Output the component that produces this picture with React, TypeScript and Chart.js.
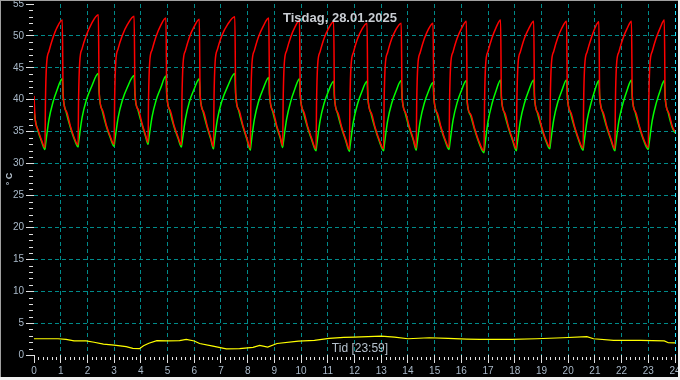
import React, { useEffect, useRef } from 'react';
import { Chart, registerables } from 'chart.js';

Chart.register(...registerables);

const TITLE = 'Tisdag, 28.01.2025';
const X_TITLE = 'Tid [23:59]';
const Y_TITLE = '° C';

// time axis (hours) shared by supply (red) and return (green) temperatures
const hours = [
  0, 0.04, 0.15, 0.28,
  0.41, 0.43, 0.47, 0.56, 0.71, 0.86, 1.06, 1.09, 1.21, 1.36, 1.51,
  1.65, 1.67, 1.71, 1.80, 1.95, 2.15, 2.41, 2.44, 2.56, 2.71, 2.86,
  3.00, 3.02, 3.06, 3.15, 3.30, 3.50, 3.75, 3.78, 3.90, 4.05, 4.18,
  4.27, 4.29, 4.33, 4.42, 4.57, 4.74, 4.94, 4.97, 5.09, 5.24, 5.39,
  5.52, 5.54, 5.58, 5.67, 5.82, 5.99, 6.19, 6.22, 6.34, 6.49, 6.62,
  6.72, 6.74, 6.78, 6.87, 7.02, 7.25, 7.52, 7.55, 7.67, 7.82, 7.97,
  8.10, 8.12, 8.16, 8.25, 8.40, 8.58, 8.79, 8.82, 8.94, 9.09, 9.22,
  9.31, 9.33, 9.37, 9.46, 9.61, 9.76, 9.94, 9.97, 10.09, 10.24, 10.39,
  10.56, 10.58, 10.62, 10.71, 10.86, 11.02, 11.22, 11.25, 11.37, 11.52, 11.67,
  11.81, 11.83, 11.87, 11.96, 12.11, 12.27, 12.47, 12.50, 12.62, 12.77, 12.92,
  13.09, 13.11, 13.15, 13.24, 13.39, 13.55, 13.75, 13.78, 13.90, 14.05, 14.20,
  14.31, 14.33, 14.37, 14.46, 14.61, 14.76, 14.94, 14.97, 15.09, 15.24, 15.39,
  15.54, 15.56, 15.60, 15.69, 15.84, 16.00, 16.19, 16.22, 16.34, 16.49, 16.64,
  16.85, 16.87, 16.91, 17.00, 17.15, 17.30, 17.47, 17.50, 17.62, 17.77, 17.92,
  18.06, 18.08, 18.12, 18.21, 18.36, 18.52, 18.71, 18.74, 18.86, 19.01, 19.16,
  19.31, 19.33, 19.37, 19.46, 19.61, 19.76, 19.94, 19.97, 20.09, 20.24, 20.39,
  20.56, 20.58, 20.62, 20.71, 20.86, 21.00, 21.15, 21.18, 21.30, 21.45, 21.60,
  21.75, 21.77, 21.81, 21.90, 22.05, 22.20, 22.37, 22.40, 22.52, 22.67, 22.82,
  23.00, 23.02, 23.06, 23.15, 23.30, 23.45, 23.60, 23.63, 23.75, 23.90, 24.00,
];

const supplyTemp = [
  40.6, 37.2, 35.3, 33.7,
  32.5, 40.0, 45.5, 47.6, 49.7, 51.3, 52.5, 40.8, 38.2, 35.9, 34.0,
  32.9, 40.2, 45.8, 48.0, 50.0, 51.9, 53.3, 41.2, 38.4, 36.0, 34.2,
  33.0, 40.3, 45.8, 48.0, 50.0, 51.8, 53.1, 41.0, 38.5, 36.2, 34.4,
  33.3, 40.4, 45.8, 47.8, 49.9, 51.6, 52.8, 41.0, 38.4, 36.0, 34.2,
  32.9, 40.1, 45.6, 47.7, 49.8, 51.4, 52.6, 40.8, 38.2, 35.8, 34.0,
  32.6, 40.2, 45.8, 47.9, 49.9, 51.8, 53.0, 41.1, 38.4, 36.0, 34.0,
  32.4, 40.0, 45.6, 47.7, 49.8, 51.5, 52.8, 40.9, 38.3, 35.9, 34.2,
  32.8, 40.1, 45.6, 47.7, 49.8, 51.3, 52.4, 40.8, 38.2, 35.9, 34.0,
  32.3, 39.8, 45.4, 47.5, 49.6, 51.1, 52.2, 40.5, 38.0, 35.7, 33.8,
  32.2, 39.8, 45.3, 47.4, 49.5, 51.0, 52.0, 40.5, 38.0, 35.7, 33.8,
  32.3, 39.8, 45.3, 47.4, 49.5, 51.0, 52.0, 40.6, 38.1, 35.8, 33.9,
  32.4, 39.8, 45.3, 47.4, 49.5, 51.0, 52.0, 40.5, 38.0, 35.7, 33.8,
  32.5, 39.9, 45.4, 47.5, 49.6, 51.1, 52.3, 39.8, 37.8, 35.6, 33.7,
  32.0, 39.8, 45.5, 47.6, 49.7, 51.3, 52.5, 40.5, 38.0, 35.7, 33.8,
  32.3, 39.9, 45.4, 47.5, 49.6, 51.1, 52.3, 40.5, 38.0, 35.7, 33.8,
  32.6, 40.0, 45.5, 47.6, 49.7, 51.2, 52.3, 40.6, 38.1, 35.8, 33.9,
  32.4, 39.9, 45.4, 47.5, 49.6, 51.2, 52.2, 40.6, 38.1, 35.8, 33.9,
  32.3, 39.9, 45.4, 47.5, 49.6, 51.1, 52.3, 40.6, 38.1, 35.8, 33.9,
  32.5, 39.9, 45.5, 47.6, 49.7, 51.3, 52.5, 40.6, 38.1, 35.8, 35.0,
];

const returnTemp = [
  38.4, 37.0, 35.1, 33.5,
  32.2, 32.9, 34.2, 36.9, 39.6, 41.5, 43.3, 40.6, 38.0, 35.7, 33.8,
  32.6, 33.3, 34.6, 37.2, 39.8, 42.0, 44.1, 41.0, 38.2, 35.8, 34.0,
  32.7, 33.4, 34.6, 37.2, 39.8, 42.0, 43.8, 40.8, 38.3, 36.0, 34.2,
  33.0, 33.6, 34.8, 37.3, 39.9, 41.8, 43.7, 40.8, 38.2, 35.8, 34.0,
  32.6, 33.2, 34.4, 37.0, 39.7, 41.6, 43.3, 40.6, 38.0, 35.6, 33.8,
  32.3, 33.0, 34.4, 37.0, 39.6, 42.1, 44.1, 40.9, 38.2, 35.8, 33.8,
  32.1, 32.8, 34.2, 36.9, 39.6, 41.7, 43.5, 40.7, 38.1, 35.7, 34.0,
  32.5, 33.1, 34.4, 37.0, 39.7, 41.6, 43.3, 40.6, 38.0, 35.7, 33.8,
  32.0, 32.7, 34.0, 36.7, 39.4, 41.3, 42.9, 40.3, 37.8, 35.5, 33.6,
  31.9, 32.6, 33.9, 36.6, 39.3, 41.2, 42.9, 40.3, 37.8, 35.5, 33.6,
  32.0, 32.7, 34.0, 36.7, 39.4, 41.3, 43.0, 40.4, 37.9, 35.6, 33.7,
  32.1, 32.7, 34.0, 36.7, 39.4, 41.2, 42.7, 40.3, 37.8, 35.5, 33.6,
  32.2, 32.8, 34.1, 36.8, 39.5, 41.4, 43.0, 39.6, 37.6, 35.4, 33.5,
  31.7, 32.4, 33.8, 36.6, 39.4, 41.4, 43.1, 40.3, 37.8, 35.5, 33.6,
  32.0, 32.7, 34.0, 36.7, 39.4, 41.4, 43.1, 40.3, 37.8, 35.5, 33.6,
  32.3, 32.9, 34.2, 36.9, 39.6, 41.4, 43.1, 40.4, 37.9, 35.6, 33.7,
  32.1, 32.8, 34.1, 36.8, 39.5, 41.5, 43.0, 40.4, 37.9, 35.6, 33.7,
  32.0, 32.7, 34.0, 36.7, 39.4, 41.4, 43.1, 40.4, 37.9, 35.6, 33.7,
  32.2, 32.8, 34.1, 36.8, 39.5, 41.5, 43.0, 40.4, 37.9, 35.6, 34.8,
];

// outdoor temperature (yellow)
const outdoorHours = [
  0, 0.9, 1.2, 1.5, 1.95, 2.25, 2.6, 3.0, 3.45, 3.7, 3.95, 4.1, 4.3, 4.6, 5.0,
  5.45, 5.7, 6.0, 6.2, 6.7, 7.2, 7.7, 8.2, 8.45, 8.75, 9.1, 9.9, 10.5, 11.05,
  11.6, 12.0, 13.0, 13.5, 14.0, 14.8, 15.5, 16.2, 16.7, 17.9, 18.8, 19.8, 20.7,
  20.95, 21.7, 22.7, 23.6, 23.75, 24.0,
];
const outdoorTemp = [
  2.55, 2.55, 2.45, 2.2, 2.2, 2.0, 1.7, 1.55, 1.3, 1.05, 1.0, 1.45, 1.85, 2.25, 2.2,
  2.25, 2.45, 2.2, 1.8, 1.4, 0.97, 1.0, 1.2, 1.5, 1.25, 1.8, 2.17, 2.3, 2.6,
  2.75, 2.8, 2.95, 2.8, 2.55, 2.7, 2.6, 2.5, 2.44, 2.44, 2.55, 2.7, 2.87,
  2.55, 2.28, 2.28, 2.2, 1.92, 1.9,
];

const X_MIN = 0;
const X_MAX = 24;
const Y_MIN = 0;
const Y_MAX = 55;

const FONT = '"Liberation Sans", Arial, sans-serif';
const GRID_COLOR = '#008a8a';
const NOW_COLOR = '#22e4ff';
const LABEL_COLOR = '#a9b9c9';
const TICK_COLOR = '#e0e0e0';

const decorPlugin = {
  id: 'decor',
  beforeDraw(chart: any) {
    const { ctx, width, height } = chart;
    ctx.save();
    ctx.fillStyle = '#000';
    ctx.fillRect(0, 0, width, height);
    ctx.restore();
  },
  afterDraw(chart: any) {
    const { ctx, chartArea, scales, width, height } = chart;
    const xs = scales.x;
    const ys = scales.y;
    ctx.save();
    // minor tick marks
    ctx.strokeStyle = TICK_COLOR;
    ctx.lineWidth = 1;
    ctx.beginPath();
    for (let v = Y_MIN; v <= Y_MAX; v++) {
      if (v % 5 === 0) continue;
      const y = Math.round(ys.getPixelForValue(v)) + 0.5;
      ctx.moveTo(chartArea.left - 5, y);
      ctx.lineTo(chartArea.left - 1, y);
    }
    for (let k = X_MIN * 6; k <= X_MAX * 6; k++) {
      if (k % 6 === 0) continue;
      const x = Math.round(xs.getPixelForValue(k / 6)) + 0.5;
      ctx.moveTo(x, chartArea.bottom + 2);
      ctx.lineTo(x, chartArea.bottom + 5);
    }
    ctx.stroke();

    // titles
    ctx.textAlign = 'center';
    ctx.textBaseline = 'middle';
    ctx.fillStyle = '#c8ccd2';
    ctx.font = 'bold 13px ' + FONT;
    ctx.fillText(TITLE, width / 2, 18);
    ctx.fillStyle = '#b4c0cc';
    ctx.font = '12px ' + FONT;
    ctx.fillText(X_TITLE, 360, 349);
    ctx.save();
    ctx.translate(10, 179);
    ctx.rotate(-Math.PI / 2);
    ctx.font = 'bold 9px ' + FONT;
    ctx.fillStyle = '#b4c0cc';
    ctx.fillText(Y_TITLE, 0, 0);
    ctx.restore();

    // frame
    ctx.fillStyle = '#a0a0a0';
    ctx.fillRect(0, 0, width, 1);
    ctx.fillRect(0, 0, 1, height);
    ctx.fillStyle = '#f0f0f0';
    ctx.fillRect(width - 2, 0, 2, height);
    ctx.fillRect(0, height - 3, width, 3);
    ctx.restore();
  },
};

export default function App() {
  const ref = useRef<HTMLCanvasElement>(null);

  useEffect(() => {
    document.body.style.margin = '0';
    const canvas = ref.current!;
    const supplyPts = hours.map((h, i) => ({ x: h, y: supplyTemp[i] }));
    const returnPts = hours.map((h, i) => ({ x: h, y: returnTemp[i] }));
    const outdoorPts = outdoorHours.map((h, i) => ({ x: h, y: outdoorTemp[i] }));

    const chart = new Chart(canvas, {
      type: 'line',
      data: {
        datasets: [
          {
            label: 'Supply',
            data: supplyPts,
            borderColor: '#ff0000',
            borderWidth: 1.5,
            pointRadius: 0,
            cubicInterpolationMode: 'monotone',
            order: 1,
          },
          {
            label: 'Return',
            data: returnPts,
            borderColor: '#00ff00',
            borderWidth: 1.5,
            pointRadius: 0,
            cubicInterpolationMode: 'monotone',
            order: 2,
          },
          {
            label: 'Outdoor',
            data: outdoorPts,
            borderColor: '#ffff00',
            borderWidth: 1.2,
            pointRadius: 0,
            tension: 0,
            order: 3,
          },
        ],
      },
      options: {
        animation: false,
        responsive: false,
        devicePixelRatio: 1,
        layout: { padding: { top: 4, right: 5, left: 0, bottom: 0 } },
        plugins: {
          legend: { display: false },
          tooltip: { enabled: false },
          title: { display: false },
        },
        events: [],
        scales: {
          x: {
            type: 'linear',
            min: X_MIN,
            max: X_MAX,
            afterFit: (scale: any) => {
              scale.height = 25;
              scale.paddingLeft = 0;
              scale.paddingRight = 0;
            },
            ticks: {
              stepSize: 1,
              autoSkip: false,
              maxRotation: 0,
              padding: 2,
              color: LABEL_COLOR,
              font: { family: FONT, size: 10 },
              callback: (v: any) => String(v),
            },
            grid: {
              color: (c: any) => {
                const v = c.tick ? c.tick.value : -1;
                if (v === X_MIN) return 'rgba(0,0,0,0)';
                if (v === X_MAX) return NOW_COLOR;
                return GRID_COLOR;
              },
              tickColor: TICK_COLOR,
              tickLength: 8,
              lineWidth: 1,
            },
            border: { display: false, dash: [4, 3] },
          },
          y: {
            type: 'linear',
            min: Y_MIN,
            max: Y_MAX,
            afterFit: (scale: any) => {
              scale.width = 34;
              scale.paddingTop = 0;
              scale.paddingBottom = 0;
            },
            ticks: {
              stepSize: 5,
              padding: 2,
              color: LABEL_COLOR,
              font: { family: FONT, size: 10 },
              callback: (v: any) => String(v),
            },
            grid: {
              color: (c: any) => {
                const v = c.tick ? c.tick.value : -1;
                if (v === Y_MIN || v === Y_MAX) return 'rgba(0,0,0,0)';
                return GRID_COLOR;
              },
              tickColor: TICK_COLOR,
              tickLength: 8,
              lineWidth: 1,
            },
            border: { display: false, dash: [4, 3] },
          },
        },
      },
      plugins: [decorPlugin],
    } as any);

    return () => chart.destroy();
  }, []);

  return (
    <div style={{ position: 'fixed', left: 0, top: 0, width: 680, height: 380, background: '#000' }}>
      <canvas ref={ref} width={680} height={380} style={{ display: 'block', width: 680, height: 380 }} />
    </div>
  );
}
